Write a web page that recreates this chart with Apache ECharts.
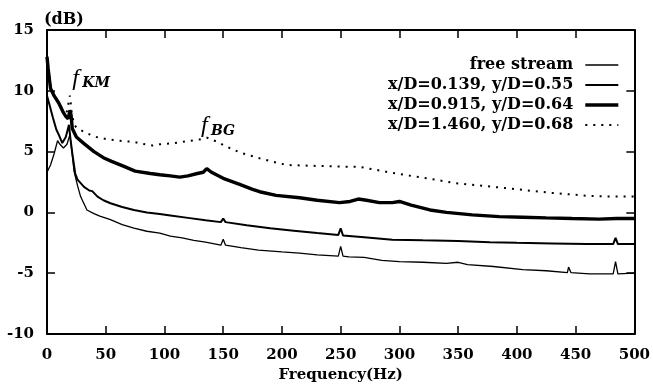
<!DOCTYPE html>
<html>
<head>
<meta charset="utf-8">
<script src="https://cdn.jsdelivr.net/npm/echarts@6/dist/echarts.min.js"></script>
<style>
  html, body { margin: 0; padding: 0; background: #fff; }
  #chart { width: 653px; height: 390px; }
</style>
</head>
<body>
<div id="chart"></div>
<script>
// 图例名称
const seriesNames = [
  "free stream",
  "x/D=0.139, y/D=0.55",
  "x/D=0.915, y/D=0.64",
  "x/D=1.460, y/D=0.68",
];

// free stream
const freqFree = [0, 3, 6, 9, 11, 14, 17, 19.5, 21, 23, 26, 28.6, 34, 40, 45, 54, 64, 74, 85, 96, 105, 115, 125, 135, 148, 150, 152, 165, 180, 200, 215, 230, 248, 250, 252, 257, 270, 285, 300, 320, 340, 350, 358, 380, 405, 425, 443, 444, 446, 462, 482, 484, 486, 500];
const dbFree = [3.3, 3.9, 4.8, 5.9, 5.6, 5.3, 5.6, 6.4, 5.2, 3.4, 2.2, 1.3, 0.2, -0.1, -0.3, -0.6, -1.0, -1.3, -1.55, -1.7, -1.95, -2.1, -2.3, -2.45, -2.7, -2.2, -2.7, -2.9, -3.1, -3.25, -3.35, -3.5, -3.6, -2.8, -3.6, -3.65, -3.7, -3.95, -4.05, -4.1, -4.2, -4.1, -4.3, -4.45, -4.7, -4.8, -4.95, -4.5, -4.95, -5.05, -5.05, -4.05, -5.05, -5.0];

// x/D=0.139
const freqA = [0, 2, 5, 8, 10, 13, 16, 18.7, 20, 21.5, 24, 26, 31.5, 36, 38.5, 40, 43, 48, 54, 64, 74, 85, 96, 105, 120, 135, 148, 150, 152, 170, 190, 210, 230, 248, 250, 252, 270, 294, 320, 350, 377, 400, 430, 460, 482, 484, 486, 500];
const dbA = [9.6, 8.9, 7.8, 6.8, 6.4, 5.7, 6.2, 7.2, 6.0, 4.9, 3.2, 2.7, 2.1, 1.8, 1.75, 1.9, 1.3, 1.0, 0.75, 0.45, 0.2, 0.0, -0.13, -0.25, -0.45, -0.65, -0.8, -0.5, -0.8, -1.05, -1.3, -1.5, -1.7, -1.85, -1.3, -1.9, -2.05, -2.25, -2.3, -2.35, -2.45, -2.5, -2.55, -2.6, -2.6, -2.1, -2.6, -2.6];

// x/D=0.915
const freqB = [0, 1, 3, 6, 10, 14, 16, 18, 19.5, 20.5, 21.5, 25, 31, 40, 48, 55, 65, 75, 88, 96, 105, 113, 120, 128, 133, 136, 140, 150, 164, 175, 181, 195, 215, 230, 249, 258, 265, 272, 283, 294, 300, 310, 326, 340, 362, 385, 405, 425, 447, 470, 485, 500];
const dbB = [12.8, 11.8, 10.2, 9.6, 9.0, 8.2, 7.9, 7.7, 8.4, 8.0, 6.9, 6.2, 5.7, 5.0, 4.5, 4.2, 3.8, 3.4, 3.2, 3.1, 3.0, 2.9, 3.0, 3.2, 3.3, 3.6, 3.3, 2.8, 2.3, 1.9, 1.7, 1.4, 1.2, 1.0, 0.8, 0.9, 1.1, 1.0, 0.8, 0.8, 0.9, 0.6, 0.2, 0.0, -0.2, -0.35, -0.4, -0.45, -0.5, -0.55, -0.5, -0.5];

// x/D=1.460
const freqC = [0, 3, 8, 14, 17, 19.5, 21, 23, 26, 34, 42, 52, 65, 74, 80, 90, 96, 108, 119, 130, 136, 145, 153, 165, 181, 195, 204, 220, 238, 255, 266, 280, 294, 310, 330, 348, 370, 390, 405, 430, 462, 480, 500];
const dbC = [12.5, 10.4, 9.3, 8.4, 8.3, 9.6, 8.3, 7.2, 6.9, 6.5, 6.2, 6.0, 5.85, 5.8, 5.65, 5.5, 5.6, 5.7, 5.85, 6.0, 6.15, 5.8, 5.4, 4.9, 4.45, 4.1, 3.9, 3.85, 3.8, 3.75, 3.75, 3.5, 3.25, 3.0, 2.7, 2.4, 2.2, 2.0, 1.85, 1.6, 1.35, 1.3, 1.3];

// 线宽
const lineWidths = [1.3, 2, 3.4, 2];

// 标注
const notes = [
  { main: "f", sub: "KM", at: [21.5, 11.0] },
  { main: "f", sub: "BG", at: [131, 7.1] },
];

const serif = "DejaVu Serif";
const zip = (xs, ys) => xs.map((x, i) => [x, ys[i]]);

const chart = echarts.init(document.getElementById("chart"));

const axisCommon = {
  type: "value",
  axisLine: { show: true, onZero: false, lineStyle: { color: "#000", width: 2 } },
  axisTick: { show: true, inside: true, length: 8, lineStyle: { color: "#000", width: 1.5 } },
  splitLine: { show: false },
};

const lineStyles = lineWidths.map((w, i) => ({
  color: "#000",
  width: w,
  type: i == 3 ? [2, 6] : "solid",
}));

const option = {
  backgroundColor: "#fff",
  animation: false,
  grid: { left: 47, right: 18, top: 30, bottom: 56 },
  legend: {
    orient: "vertical",
    right: 33,
    top: 57,
    padding: 0,
    align: "right",
    itemWidth: 33,
    itemHeight: 14,
    itemGap: 4,
    itemStyle: { opacity: 0 },
    textStyle: { fontFamily: serif, fontWeight: "bold", fontSize: 16, color: "#000", padding: [0, 7, 0, 0] },
    data: seriesNames.map((name, i) => ({ name: name, lineStyle: lineStyles[i] })),
  },
  xAxis: [
    Object.assign({}, axisCommon, {
      min: 0, max: 500, interval: 50,
      position: "bottom",
      name: "Frequency(Hz)",
      nameLocation: "middle",
      nameGap: 34,
      nameTextStyle: { fontFamily: serif, fontWeight: "bold", fontSize: 15, color: "#000" },
      axisLabel: { margin: 14, fontFamily: serif, fontWeight: "bold", fontSize: 15, color: "#000" },
    }),
    Object.assign({}, axisCommon, {
      min: 0, max: 500, interval: 50,
      position: "top",
      axisLabel: { show: false },
    }),
  ],
  yAxis: [
    Object.assign({}, axisCommon, {
      min: -10, max: 15, interval: 5,
      position: "left",
      name: "(dB)",
      nameLocation: "end",
      nameGap: 10,
      nameTextStyle: { fontFamily: serif, fontWeight: "bold", fontSize: 16, color: "#000", align: "left", verticalAlign: "middle", padding: [0, 0, 0, -3] },
      axisLabel: { margin: 13, fontFamily: serif, fontWeight: "bold", fontSize: 15, color: "#000" },
    }),
    Object.assign({}, axisCommon, {
      min: -10, max: 15, interval: 5,
      position: "right",
      axisLabel: { show: false },
    }),
  ],
  series: [
    { name: seriesNames[0], data: zip(freqFree, dbFree), z: 3 },
    { name: seriesNames[1], data: zip(freqA, dbA), z: 3 },
    { name: seriesNames[2], data: zip(freqB, dbB), z: 4 },
    { name: seriesNames[3], data: zip(freqC, dbC), z: 2 },
  ].map((s, i) =>
    Object.assign(s, {
      type: "line",
      symbol: "none",
      lineStyle: lineStyles[i],
      itemStyle: { color: "#000" },
    })
  ),
};

chart.setOption(option);

// 标注 f_KM / f_BG
const graphics = notes.map((n) => {
  const p = chart.convertToPixel({ gridIndex: 0 }, n.at);
  return {
    type: "group",
    x: p[0],
    y: p[1],
    children: [
      {
        type: "text",
        x: 0, y: 0,
        style: { text: n.main, font: "italic 24px 'Liberation Serif'", fill: "#000", align: "left", verticalAlign: "middle", textAlign: "left", textVerticalAlign: "middle" },
      },
      {
        type: "text",
        x: 10, y: 5,
        style: { text: n.sub, font: "italic bold 14px 'DejaVu Serif'", fill: "#000", align: "left", verticalAlign: "middle", textAlign: "left", textVerticalAlign: "middle" },
      },
    ],
  };
});
chart.setOption({ graphic: graphics });
</script>
</body>
</html>
